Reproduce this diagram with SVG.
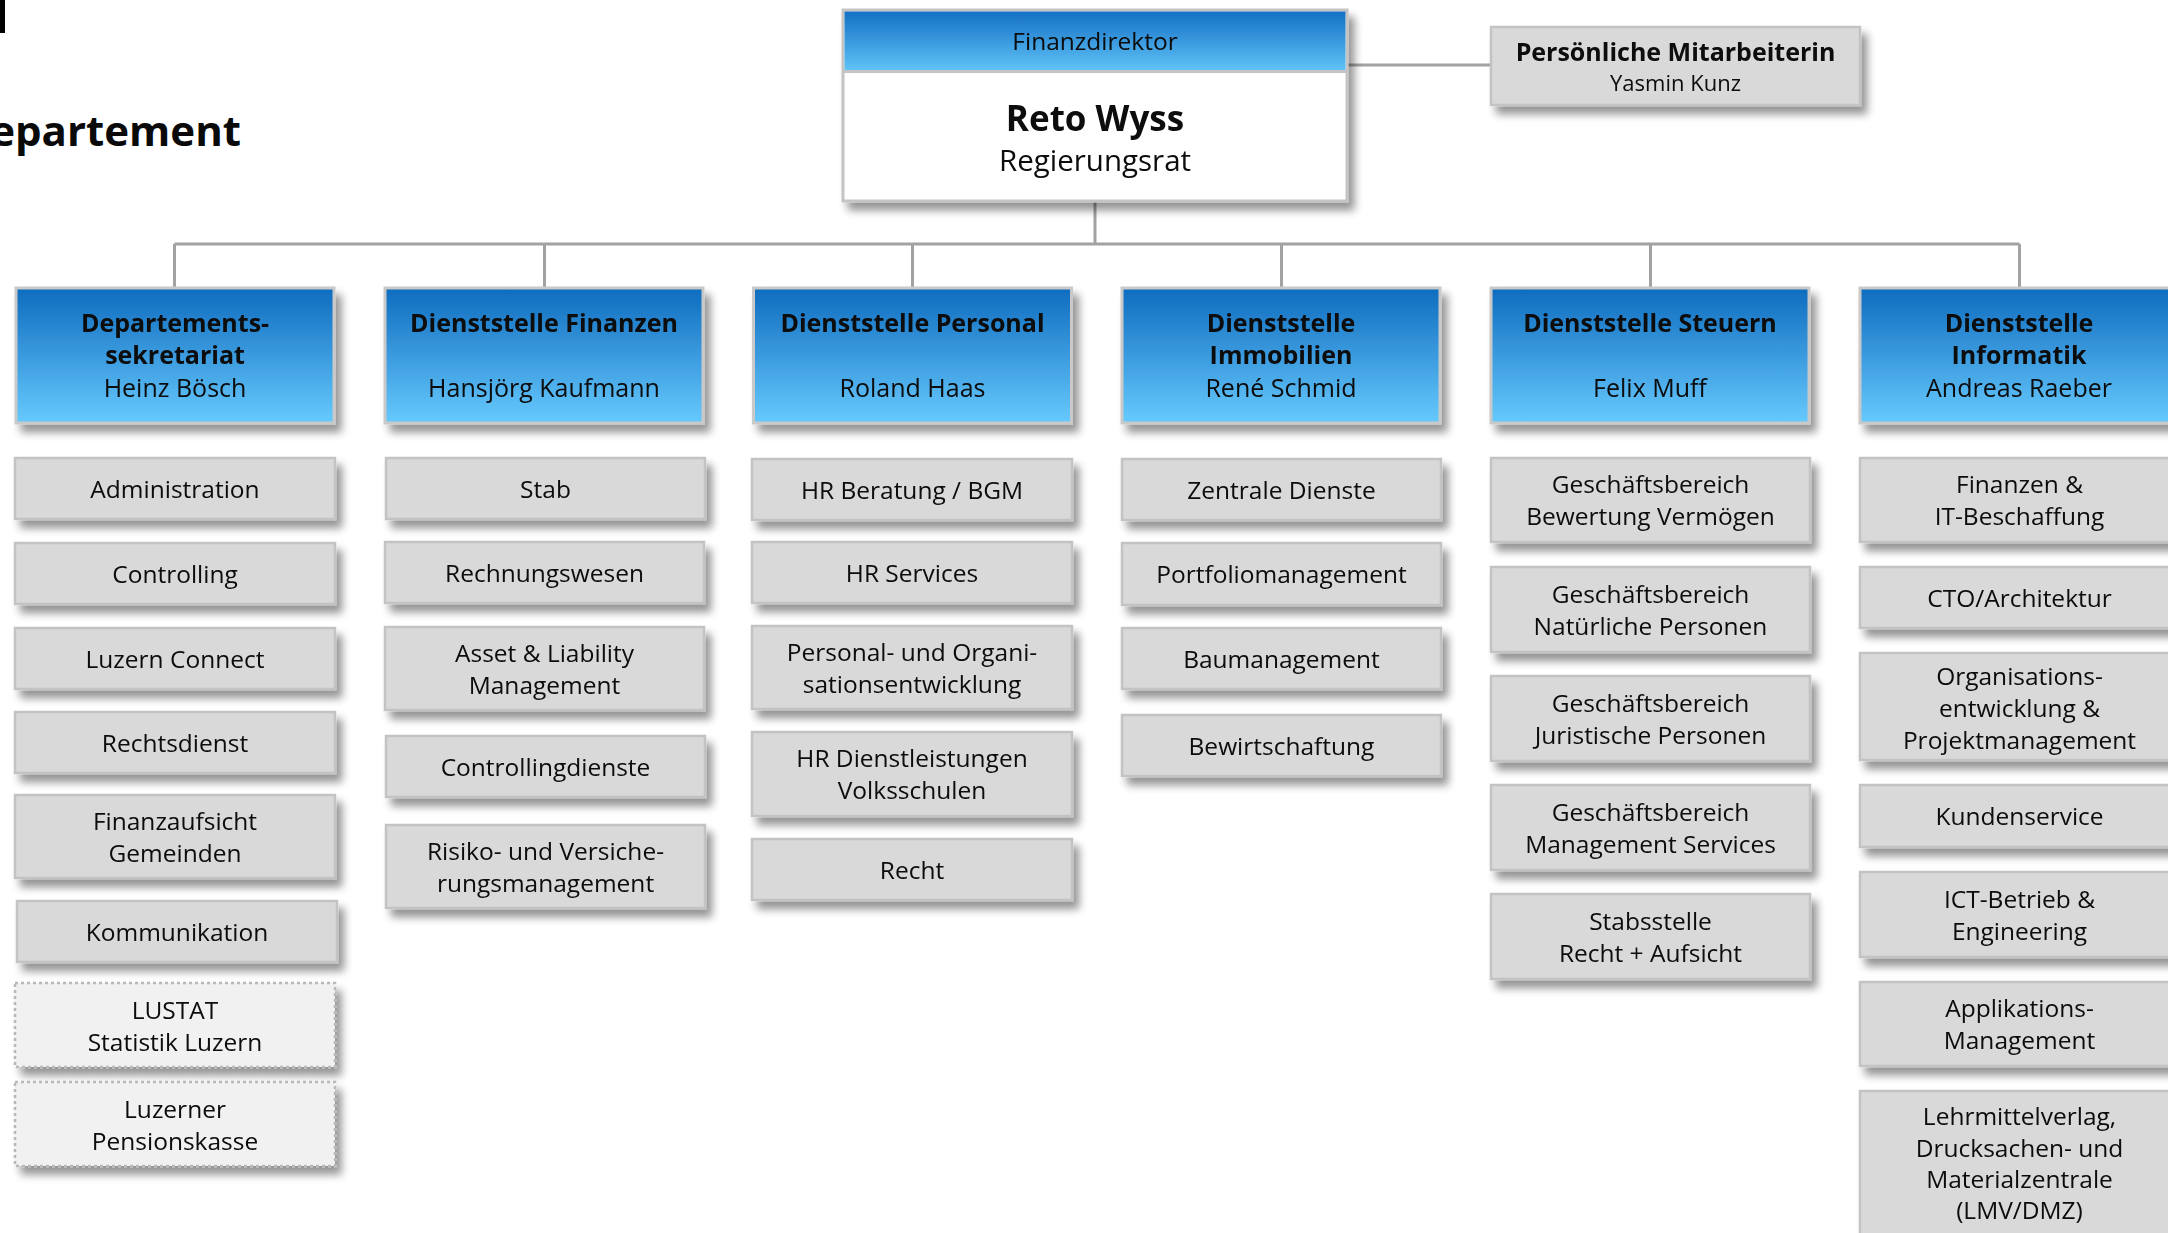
<svg xmlns="http://www.w3.org/2000/svg" width="2168" height="1233" viewBox="0 0 2168 1233">
<defs>
<linearGradient id="hdr" x1="0" y1="0" x2="0" y2="1">
<stop offset="0" stop-color="#0e6cbe"/>
<stop offset="0.5" stop-color="#3b9ade"/>
<stop offset="1" stop-color="#67cafd"/>
</linearGradient>
<linearGradient id="top" x1="0" y1="0" x2="0" y2="1">
<stop offset="0" stop-color="#1470c4"/>
<stop offset="1" stop-color="#60c3f7"/>
</linearGradient>
<filter id="sh" x="-10%" y="-20%" width="130%" height="150%">
<feGaussianBlur in="SourceAlpha" stdDeviation="4.5"/>
<feOffset dx="6" dy="8" result="b"/>
<feComponentTransfer><feFuncA type="linear" slope="0.42"/></feComponentTransfer>
<feMerge><feMergeNode/><feMergeNode in="SourceGraphic"/></feMerge>
</filter>
</defs>
<style>
text{font-family:"Open Sans","Noto Sans",sans-serif;fill:#0a0a0a;text-anchor:middle}
.t{font-size:24.5px}
.h{font-size:25px}
.hb{font-size:25px;font-weight:bold}
.box{fill:#d9d9d9;stroke:#c3c3c3;stroke-width:2.5}
.dash{fill:#f1f1f1;stroke:#b9b9b9;stroke-width:2.5;stroke-dasharray:3 3}
.hd{fill:url(#hdr);stroke:#c9c9c9;stroke-width:3}
.con{stroke:#a2a2a2;stroke-width:3;fill:none}
</style>
<rect width="2168" height="1233" fill="#ffffff"/>
<rect x="0" y="0" width="5" height="33" fill="#000"/>
<text x="241" y="146" style="font-size:42px;font-weight:bold;text-anchor:end">epartement</text>

<g id="connectors">
<path class="con" d="M1095 202 V244 M174.5 244 H2019.5 M174.5 244 V288 M544.5 244 V288 M912.5 244 V288 M1281.5 244 V288 M1650.5 244 V288 M2019.5 244 V288 M1347 65 H1491"/>
</g>

<g id="finanzdirektor" filter="url(#sh)">
<rect x="843" y="10" width="504" height="191" fill="#ffffff" stroke="#c4c4c4" stroke-width="3"/>
<rect x="844.5" y="11.5" width="501" height="59.5" fill="url(#top)"/>
<line x1="844" y1="71.5" x2="1346" y2="71.5" stroke="#c4c4c4" stroke-width="3"/>
<text x="1095" y="50" style="font-size:24.5px">Finanzdirektor</text>
<text x="1095" y="131" style="font-size:35px;font-weight:bold">Reto Wyss</text>
<text x="1095" y="171" style="font-size:29.5px">Regierungsrat</text>
</g>

<g id="persoenliche" filter="url(#sh)">
<rect class="box" x="1491" y="27" width="369" height="78"/>
<text x="1675.5" y="61" class="hb">Persönliche Mitarbeiterin</text>
<text x="1675.5" y="91" style="font-size:22px">Yasmin Kunz</text>
</g>

<!-- header boxes -->
<g id="h1" filter="url(#sh)"><rect class="hd" x="16" y="288" width="318" height="135"/>
<text x="175" y="332" class="hb">Departements-</text><text x="175" y="364" class="hb">sekretariat</text><text x="175" y="397" class="h">Heinz Bösch</text></g>
<g id="h2" filter="url(#sh)"><rect class="hd" x="385" y="288" width="318" height="135"/>
<text x="544" y="332" class="hb">Dienststelle Finanzen</text><text x="544" y="397" class="h">Hansjörg Kaufmann</text></g>
<g id="h3" filter="url(#sh)"><rect class="hd" x="753.5" y="288" width="318" height="135"/>
<text x="912.5" y="332" class="hb">Dienststelle Personal</text><text x="912.5" y="397" class="h">Roland Haas</text></g>
<g id="h4" filter="url(#sh)"><rect class="hd" x="1122" y="288" width="318" height="135"/>
<text x="1281" y="332" class="hb">Dienststelle</text><text x="1281" y="364" class="hb">Immobilien</text><text x="1281" y="397" class="h">René Schmid</text></g>
<g id="h5" filter="url(#sh)"><rect class="hd" x="1491" y="288" width="318" height="135"/>
<text x="1650" y="332" class="hb">Dienststelle Steuern</text><text x="1650" y="397" class="h">Felix Muff</text></g>
<g id="h6" filter="url(#sh)"><rect class="hd" x="1860" y="288" width="318" height="135"/>
<text x="2019" y="332" class="hb">Dienststelle</text><text x="2019" y="364" class="hb">Informatik</text><text x="2019" y="397" class="h">Andreas Raeber</text></g>

<!-- column 1 -->
<g id="c1a" filter="url(#sh)"><rect class="box" x="15" y="458" width="320" height="61"/><text x="175" y="497.5" class="t">Administration</text></g>
<g id="c1b" filter="url(#sh)"><rect class="box" x="15" y="543" width="320" height="61"/><text x="175" y="582.5" class="t">Controlling</text></g>
<g id="c1c" filter="url(#sh)"><rect class="box" x="15" y="628" width="320" height="61"/><text x="175" y="667.5" class="t">Luzern Connect</text></g>
<g id="c1d" filter="url(#sh)"><rect class="box" x="15" y="712" width="320" height="61"/><text x="175" y="751.5" class="t">Rechtsdienst</text></g>
<g id="c1e" filter="url(#sh)"><rect class="box" x="15" y="795" width="320" height="83"/><text x="175" y="829.5" class="t">Finanzaufsicht</text><text x="175" y="861.5" class="t">Gemeinden</text></g>
<g id="c1f" filter="url(#sh)"><rect class="box" x="17" y="901" width="320" height="61"/><text x="177" y="940.5" class="t">Kommunikation</text></g>
<g id="c1g" filter="url(#sh)"><rect class="dash" x="15" y="983" width="320" height="84"/><text x="175" y="1019" class="t">LUSTAT</text><text x="175" y="1051" class="t">Statistik Luzern</text></g>
<g id="c1h" filter="url(#sh)"><rect class="dash" x="15" y="1082" width="320" height="84"/><text x="175" y="1118" class="t">Luzerner</text><text x="175" y="1150" class="t">Pensionskasse</text></g>

<!-- column 2 -->
<g id="c2a" filter="url(#sh)"><rect class="box" x="386" y="458" width="319" height="61"/><text x="545.5" y="497.5" class="t">Stab</text></g>
<g id="c2b" filter="url(#sh)"><rect class="box" x="385" y="542" width="319" height="61"/><text x="544.5" y="581.5" class="t">Rechnungswesen</text></g>
<g id="c2c" filter="url(#sh)"><rect class="box" x="385" y="627" width="319" height="83"/><text x="544.5" y="661.5" class="t">Asset &amp; Liability</text><text x="544.5" y="693.5" class="t">Management</text></g>
<g id="c2d" filter="url(#sh)"><rect class="box" x="386" y="736" width="319" height="61"/><text x="545.5" y="775.5" class="t">Controllingdienste</text></g>
<g id="c2e" filter="url(#sh)"><rect class="box" x="386" y="825" width="319" height="83"/><text x="545.5" y="859.5" class="t">Risiko- und Versiche-</text><text x="545.5" y="891.5" class="t">rungsmanagement</text></g>

<!-- column 3 -->
<g id="c3a" filter="url(#sh)"><rect class="box" x="752" y="459" width="320" height="61"/><text x="912" y="498.5" class="t">HR Beratung / BGM</text></g>
<g id="c3b" filter="url(#sh)"><rect class="box" x="752" y="542" width="320" height="61"/><text x="912" y="581.5" class="t">HR Services</text></g>
<g id="c3c" filter="url(#sh)"><rect class="box" x="752" y="626" width="320" height="83"/><text x="912" y="660.5" class="t">Personal- und Organi-</text><text x="912" y="692.5" class="t">sationsentwicklung</text></g>
<g id="c3d" filter="url(#sh)"><rect class="box" x="752" y="732" width="320" height="84"/><text x="912" y="767" class="t">HR Dienstleistungen</text><text x="912" y="799" class="t">Volksschulen</text></g>
<g id="c3e" filter="url(#sh)"><rect class="box" x="752" y="839" width="320" height="61"/><text x="912" y="878.5" class="t">Recht</text></g>

<!-- column 4 -->
<g id="c4a" filter="url(#sh)"><rect class="box" x="1122" y="459" width="319" height="61"/><text x="1281.5" y="498.5" class="t">Zentrale Dienste</text></g>
<g id="c4b" filter="url(#sh)"><rect class="box" x="1122" y="543" width="319" height="62"/><text x="1281.5" y="583" class="t">Portfoliomanagement</text></g>
<g id="c4c" filter="url(#sh)"><rect class="box" x="1122" y="628" width="319" height="61"/><text x="1281.5" y="667.5" class="t">Baumanagement</text></g>
<g id="c4d" filter="url(#sh)"><rect class="box" x="1122" y="715" width="319" height="61"/><text x="1281.5" y="754.5" class="t">Bewirtschaftung</text></g>

<!-- column 5 -->
<g id="c5a" filter="url(#sh)"><rect class="box" x="1491" y="458" width="319" height="84"/><text x="1650.5" y="493" class="t">Geschäftsbereich</text><text x="1650.5" y="525" class="t">Bewertung Vermögen</text></g>
<g id="c5b" filter="url(#sh)"><rect class="box" x="1491" y="567" width="319" height="85"/><text x="1650.5" y="602.5" class="t">Geschäftsbereich</text><text x="1650.5" y="634.5" class="t">Natürliche Personen</text></g>
<g id="c5c" filter="url(#sh)"><rect class="box" x="1491" y="676" width="319" height="85"/><text x="1650.5" y="711.5" class="t">Geschäftsbereich</text><text x="1650.5" y="743.5" class="t">Juristische Personen</text></g>
<g id="c5d" filter="url(#sh)"><rect class="box" x="1491" y="785" width="319" height="85"/><text x="1650.5" y="820.5" class="t">Geschäftsbereich</text><text x="1650.5" y="852.5" class="t">Management Services</text></g>
<g id="c5e" filter="url(#sh)"><rect class="box" x="1491" y="894" width="319" height="85"/><text x="1650.5" y="929.5" class="t">Stabsstelle</text><text x="1650.5" y="961.5" class="t">Recht + Aufsicht</text></g>

<!-- column 6 -->
<g id="c6a" filter="url(#sh)"><rect class="box" x="1860" y="458" width="330" height="84"/><text x="2019.5" y="493" class="t">Finanzen &amp;</text><text x="2019.5" y="525" class="t">IT-Beschaffung</text></g>
<g id="c6b" filter="url(#sh)"><rect class="box" x="1860" y="567" width="330" height="61"/><text x="2019.5" y="606.5" class="t">CTO/Architektur</text></g>
<g id="c6c" filter="url(#sh)"><rect class="box" x="1860" y="653" width="330" height="107"/><text x="2019.5" y="685" class="t">Organisations-</text><text x="2019.5" y="717" class="t">entwicklung &amp;</text><text x="2019.5" y="749" class="t">Projektmanagement</text></g>
<g id="c6d" filter="url(#sh)"><rect class="box" x="1860" y="785" width="330" height="62"/><text x="2019.5" y="825" class="t">Kundenservice</text></g>
<g id="c6e" filter="url(#sh)"><rect class="box" x="1860" y="872" width="330" height="85"/><text x="2019.5" y="907.5" class="t">ICT-Betrieb &amp;</text><text x="2019.5" y="939.5" class="t">Engineering</text></g>
<g id="c6f" filter="url(#sh)"><rect class="box" x="1860" y="982" width="330" height="84"/><text x="2019.5" y="1017" class="t">Applikations-</text><text x="2019.5" y="1049" class="t">Management</text></g>
<g id="c6g" filter="url(#sh)"><rect class="box" x="1860" y="1091" width="330" height="170"/><text x="2019.5" y="1125" class="t">Lehrmittelverlag,</text><text x="2019.5" y="1157" class="t">Drucksachen- und</text><text x="2019.5" y="1188" class="t">Materialzentrale</text><text x="2019.5" y="1219" class="t">(LMV/DMZ)</text></g>
</svg>
